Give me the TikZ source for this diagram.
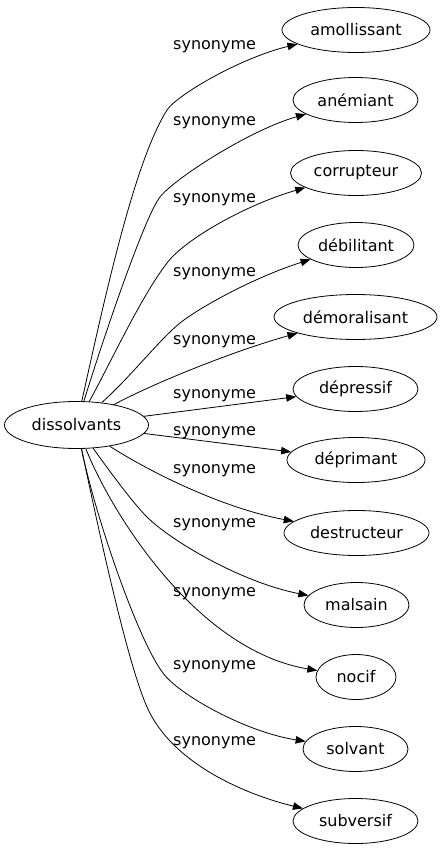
\documentclass[tikz,border=0pt]{standalone}
\usepackage{fontspec}
\setmainfont{DejaVu Sans}
\usetikzlibrary{arrows.meta,shapes.geometric}
\begin{document}
\begin{tikzpicture}[x=1pt,y=-1pt,
  word/.style={draw,ellipse,line width=0.8pt,inner sep=0pt,minimum height=45pt,font=\fontsize{16}{18}\selectfont},
  lab/.style={anchor=base west,inner sep=0pt,font=\fontsize{16}{18}\selectfont},
  edge/.style={-{Triangle[length=10pt,width=7.5pt]},line width=0.8pt}]
\useasboundingbox (0,0) rectangle (443,851);
\node[word,minimum width=144pt,minimum height=47pt] (d) at (76.5,425) {dissolvants};
\node[word,minimum width=148pt] (t1) at (356,30) {amollissant};
\node[word,minimum width=125pt] (t2) at (355.5,100) {anémiant};
\node[word,minimum width=131pt] (t3) at (356,173) {corrupteur};
\node[word,minimum width=116pt] (t4) at (356,245) {débilitant};
\node[word,minimum width=163pt] (t5) at (355.5,317) {démoralisant};
\node[word,minimum width=125pt] (t6) at (355.5,389) {dépressif};
\node[word,minimum width=138pt] (t7) at (356,460) {déprimant};
\node[word,minimum width=145pt] (t8) at (356.5,533) {destructeur};
\node[word,minimum width=105pt] (t9) at (356.5,605) {malsain};
\node[word,minimum width=80pt] (t10) at (356,677) {nocif};
\node[word,minimum width=105pt] (t11) at (355.5,749) {solvant};
\node[word,minimum width=125pt] (t12) at (355.5,821) {subversif};
\draw[edge] (d) .. controls (106,292) and (134.6,161.6) .. (167,110) .. controls (177,95) and (240,58) .. (t1);
\draw[edge] (d) .. controls (105,333) and (145,216) .. (160,197) .. controls (175,178) and (250,130) .. (t2);
\draw[edge] (d) .. controls (114,356) and (141,297) .. (167,263) .. controls (184,240) and (245,205) .. (t3);
\draw[edge] (d) .. controls (130,377.5) and (160,339) .. (180,323) .. controls (200,307) and (255,277) .. (t4);
\draw[edge] (d) .. controls (150,385) and (230,352) .. (t5);
\draw[edge] (d) -- (t6);
\draw[edge] (d) -- (t7);
\draw[edge] (d) .. controls (150,472) and (222,508) .. (t8);
\draw[edge] (d) .. controls (108,469) and (132,502) .. (147,517) .. controls (170,540) and (240,582) .. (t9);
\draw[edge] (d) .. controls (110,510) and (195,650) .. (t10);
\draw[edge] (d) .. controls (96.6,521.6) and (139.5,643) .. (163,673) .. controls (178,694) and (245,732) .. (t11);
\draw[edge] (d) .. controls (101.5,544) and (128,664) .. (147,707) .. controls (172,764) and (247,795) .. (t12);
\node[lab] (l1) at (173,49) {synonyme};
\node[lab] (l2) at (173,125.5) {synonyme};
\node[lab] (l3) at (173,202.5) {synonyme};
\node[lab] (l4) at (173,276) {synonyme};
\node[lab] (l5) at (173,344) {synonyme};
\node[lab] (l6) at (173,398) {synonyme};
\node[lab] (l7) at (173,435.5) {synonyme};
\node[lab] (l8) at (173,473) {synonyme};
\node[lab] (l9) at (173,527.5) {synonyme};
\node[lab] (l10) at (173,596) {synonyme};
\node[lab] (l11) at (173,669) {synonyme};
\node[lab] (l12) at (173,745) {synonyme};
\end{tikzpicture}
\end{document}
